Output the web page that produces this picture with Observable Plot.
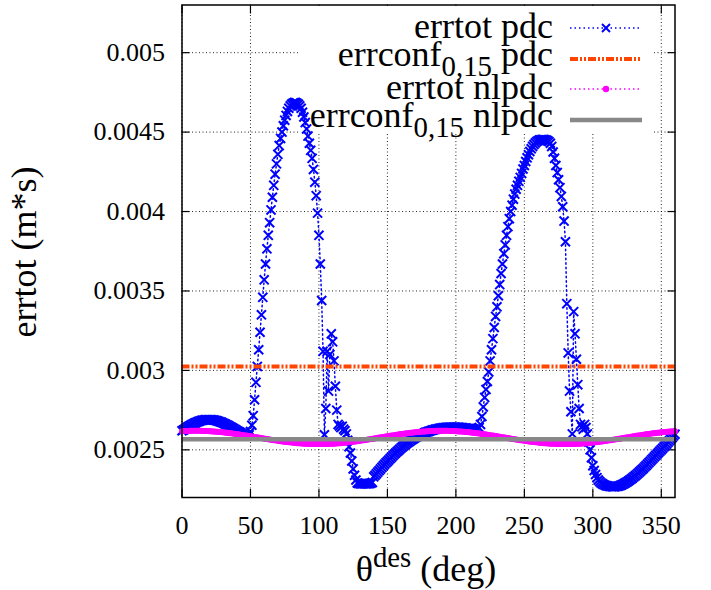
<!DOCTYPE html>
<html><head><meta charset="utf-8">
<script src="https://cdn.jsdelivr.net/npm/d3@7"></script>
<script src="https://cdn.jsdelivr.net/npm/@observablehq/plot@0.6"></script>
<style>
html,body{margin:0;padding:0;background:#fff;}
#chart svg{display:block;}
#chart svg text{font-family:"Liberation Serif","DejaVu Serif",serif;}
</style></head><body><div id="chart"></div>
<script>
// abscissa: desired angle, one sample per degree
const thetaDeg = d3.range(0, 361, 1);

// errtot pdc (units of 1e-6 m*s), theta = 0..360
const errtotPdcMicro = [
2620,2625,2630,2636,2642,2648,2653,2658,2663,2667,
2671,2675,2678,2681,2684,2686,2688,2689,2690,2690,
2690,2690,2689,2688,2686,2684,2682,2679,2676,2673,
2669,2665,2661,2657,2652,2647,2642,2637,2632,2627,
2622,2617,2612,2607,2602,2598,2594,2591,2590,2595,
2615,2655,2715,2815,2925,3025,3130,3240,3350,3460,
3570,3670,3765,3850,3930,4010,4090,4165,4235,4300,
4360,4415,4460,4500,4540,4575,4605,4630,4650,4665,
4675,4682,4686,4686,4682,4675,4665,4650,4625,4595,
4560,4520,4475,4430,4385,4335,4265,4185,4100,3990,
3850,3670,3440,3120,2595,2760,3120,2870,3100,3230,
3180,3060,2900,2750,2660,2650,2640,2648,2630,2620,
2600,2560,2520,2480,2430,2380,2340,2310,2292,2288,
2287,2286,2286,2286,2286,2286,2287,2288,2290,2295,
2330,2340,2350,2360,2370,2380,2390,2400,2409,2418,
2427,2436,2445,2454,2463,2472,2480,2488,2496,2504,
2512,2519,2526,2533,2540,2546,2552,2558,2564,2570,
2575,2580,2585,2590,2594,2598,2602,2606,2610,2613,
2616,2619,2622,2625,2627,2629,2631,2633,2635,2637,
2638,2639,2640,2641,2642,2642,2643,2643,2643,2643,
2643,2642,2642,2641,2640,2639,2638,2637,2636,2635,
2634,2633,2632,2631,2630,2630,2632,2640,2660,2710,
2770,2830,2880,2930,2990,3060,3130,3200,3270,3340,
3400,3470,3540,3610,3670,3735,3790,3850,3905,3955,
4000,4040,4078,4110,4140,4165,4190,4215,4240,4268,
4290,4315,4338,4358,4378,4395,4410,4422,4432,4440,
4446,4450,4452,4453,4453,4452,4450,4446,4440,4430,
4410,4375,4335,4290,4245,4200,4150,4095,4030,3940,
3810,3420,3110,2870,2740,2600,3370,3230,3070,2910,
2760,2660,2645,2630,2660,2640,2600,2550,2500,2450,
2400,2370,2345,2325,2310,2300,2292,2286,2281,2277,
2274,2272,2270,2269,2268,2268,2268,2269,2270,2272,
2275,2279,2283,2288,2293,2298,2304,2310,2316,2323,
2330,2337,2344,2352,2360,2368,2376,2384,2393,2402,
2411,2420,2429,2438,2447,2456,2465,2474,2483,2492,
2501,2510,2519,2528,2537,2548,2558,2568,2578,2588,
2598];

// errtot nlpdc (units of 1e-6 m*s), theta = 0..360
const errtotNlpdcMicro = [
2617,2618,2618,2619,2619,2619,2620,2620,2620,2620,
2620,2620,2620,2620,2620,2619,2619,2619,2618,2618,
2617,2617,2616,2616,2615,2614,2614,2613,2612,2611,
2610,2609,2608,2607,2606,2605,2604,2603,2601,2600,
2599,2598,2596,2595,2594,2592,2591,2590,2588,2587,
2585,2584,2582,2581,2579,2578,2577,2575,2574,2572,
2571,2569,2568,2566,2565,2564,2562,2561,2560,2558,
2557,2556,2555,2553,2552,2551,2550,2549,2548,2547,
2546,2545,2544,2543,2542,2542,2541,2540,2540,2539,
2539,2538,2538,2537,2537,2537,2536,2536,2536,2536,
2536,2536,2536,2536,2536,2537,2537,2537,2538,2538,
2539,2539,2540,2540,2541,2542,2542,2543,2544,2545,
2546,2547,2548,2549,2550,2551,2552,2553,2555,2556,
2557,2558,2560,2561,2562,2564,2565,2566,2568,2569,
2571,2572,2574,2575,2577,2578,2579,2581,2582,2584,
2585,2587,2588,2590,2591,2592,2594,2595,2596,2598,
2599,2600,2601,2603,2604,2605,2606,2607,2608,2609,
2610,2611,2612,2613,2614,2614,2615,2616,2616,2617,
2617,2618,2618,2619,2619,2619,2620,2620,2620,2620,
2620,2620,2620,2620,2620,2619,2619,2619,2618,2618,
2617,2617,2616,2616,2615,2614,2614,2613,2612,2611,
2610,2609,2608,2607,2606,2605,2604,2603,2601,2600,
2599,2598,2596,2595,2594,2592,2591,2590,2588,2587,
2585,2584,2582,2581,2579,2578,2577,2575,2574,2572,
2571,2569,2568,2566,2565,2564,2562,2561,2560,2558,
2557,2556,2555,2553,2552,2551,2550,2549,2548,2547,
2546,2545,2544,2543,2542,2542,2541,2540,2540,2539,
2539,2538,2538,2537,2537,2537,2536,2536,2536,2536,
2536,2536,2536,2536,2536,2537,2537,2537,2538,2538,
2539,2539,2540,2540,2541,2542,2542,2543,2544,2545,
2546,2547,2548,2549,2550,2551,2552,2553,2555,2556,
2557,2558,2560,2561,2562,2564,2565,2566,2568,2569,
2571,2572,2574,2575,2577,2578,2579,2581,2582,2584,
2585,2587,2588,2590,2591,2592,2594,2595,2596,2598,
2599,2600,2601,2603,2604,2605,2606,2607,2608,2609,
2610,2611,2612,2613,2614,2614,2615,2616,2616,2617,
2617];

// constant confidence levels (m*s)
const errconfPdc = 0.003025;
const errconfNlpdc = 0.002567;

const xTicks = [0, 50, 100, 150, 200, 250, 300, 350];
const yTicks = [0.0025, 0.003, 0.0035, 0.004, 0.0045, 0.005];

const legendMain = ["errtot pdc", "errconf", "errtot nlpdc", "errconf"];
const legendSub = [null, "0,15", null, "0,15"];
const legendRest = [null, " pdc", null, " nlpdc"];

const pdcData = thetaDeg.map((t, i) => ({theta: t, err: errtotPdcMicro[i] / 1e6}));
const nlpdcData = thetaDeg.map((t, i) => ({theta: t, err: errtotNlpdcMicro[i] / 1e6}));

const FONT = "Liberation Serif";
const BLUE = "#0000ff", ORANGE = "#ff4500", MAGENTA = "#ff00ff", GRAY = "#888888";

const chart = Plot.plot({
  width: 711,
  height: 590,
  marginLeft: 181.5,
  marginRight: 36.5,
  marginTop: 4.5,
  marginBottom: 93,
  style: {fontFamily: FONT, fontSize: "26px", background: "#fff", color: "#000", overflow: "visible"},
  x: {domain: [0, 360], label: null},
  y: {domain: [0.0022, 0.0053], label: null},
  marks: [
    Plot.gridX(xTicks, {stroke: "#000", strokeOpacity: 0.85, strokeWidth: 1, strokeDasharray: "1,2.5"}),
    Plot.gridY(yTicks, {stroke: "#000", strokeOpacity: 0.85, strokeWidth: 1, strokeDasharray: "1,2.5"}),
    Plot.axisX(xTicks, {anchor: "bottom", tickSize: -8, fill: "none", strokeWidth: 1.2}),
    Plot.axisX(xTicks, {anchor: "top", tickSize: -8, fill: "none", strokeWidth: 1.2}),
    Plot.axisY(yTicks, {anchor: "left", tickSize: -8, fill: "none", strokeWidth: 1.2}),
    Plot.axisY(yTicks, {anchor: "right", tickSize: -8, fill: "none", strokeWidth: 1.2}),
    Plot.axisX(xTicks, {anchor: "bottom", tickSize: 0, tickPadding: 18, label: null, fontSize: 26, tickFormat: d => String(d)}),
    Plot.axisY(yTicks, {anchor: "left", tickSize: 0, tickPadding: 17, label: null, fontSize: 26, tickFormat: d => String(+d.toPrecision(2))}),
    Plot.line(pdcData, {x: "theta", y: "err", stroke: BLUE, strokeWidth: 1.5, strokeDasharray: "1.5,3"}),
    Plot.dot(pdcData, {x: "theta", y: "err", symbol: "times", r: 4.2, stroke: BLUE, strokeWidth: 2}),
    Plot.ruleY([errconfPdc], {stroke: ORANGE, strokeWidth: 4, strokeDasharray: "8,2,2,2,2,2"}),
    Plot.line(nlpdcData, {x: "theta", y: "err", stroke: MAGENTA, strokeWidth: 1.5, strokeDasharray: "1.5,3"}),
    Plot.dot(nlpdcData, {x: "theta", y: "err", r: 3, fill: MAGENTA, stroke: "none"}),
    Plot.ruleY([errconfNlpdc], {stroke: GRAY, strokeWidth: 4.5}),
    Plot.frame({stroke: "#000", strokeWidth: 1.5})
  ]
});

document.getElementById("chart").appendChild(chart);
const svg = d3.select(chart);

// opaque key background (hides grid behind the key, as in the original)
const firstData = chart.querySelector('g[aria-label="line"]');
const bg = document.createElementNS("http://www.w3.org/2000/svg", "rect");
bg.setAttribute("x", 300); bg.setAttribute("y", 6);
bg.setAttribute("width", 352); bg.setAttribute("height", 127);
bg.setAttribute("fill", "#fff");
chart.insertBefore(bg, firstData);

// key
const key = svg.append("g").style("font-family", FONT);
const keyTextX = 553, s0 = 570, s1 = 642, sm = 606;
const rowY = [28, 59, 89, 120];
const textDy = [10, 7, 10, 7];
rowY.forEach((y, i) => {
  const t = key.append("text").attr("x", keyTextX).attr("y", y + textDy[i])
    .attr("text-anchor", "end").style("font-size", "36px").attr("fill", "#000");
  t.append("tspan").text(legendMain[i]);
  if (legendSub[i]) {
    t.append("tspan").attr("dy", 10).style("font-size", "28.8px").text(legendSub[i]);
    t.append("tspan").attr("dy", -10).text(legendRest[i]);
  }
});
// samples
key.append("line").attr("x1", s0).attr("x2", s1).attr("y1", rowY[0]).attr("y2", rowY[0])
  .attr("stroke", BLUE).attr("stroke-width", 1.5).attr("stroke-dasharray", "1.5,3");
key.append("path").attr("d", `M${sm-4},${rowY[0]-4}L${sm+4},${rowY[0]+4}M${sm-4},${rowY[0]+4}L${sm+4},${rowY[0]-4}`)
  .attr("stroke", BLUE).attr("stroke-width", 2).attr("fill", "none");
key.append("line").attr("x1", s0).attr("x2", s1).attr("y1", rowY[1]).attr("y2", rowY[1])
  .attr("stroke", ORANGE).attr("stroke-width", 4).attr("stroke-dasharray", "8,2,2,2,2,2");
key.append("line").attr("x1", s0).attr("x2", s1).attr("y1", rowY[2]).attr("y2", rowY[2])
  .attr("stroke", MAGENTA).attr("stroke-width", 1.5).attr("stroke-dasharray", "1.5,3");
key.append("circle").attr("cx", sm).attr("cy", rowY[2]).attr("r", 3.2).attr("fill", MAGENTA);
key.append("line").attr("x1", s0).attr("x2", s1).attr("y1", rowY[3]).attr("y2", rowY[3])
  .attr("stroke", GRAY).attr("stroke-width", 4.5);

// axis titles
const xl = svg.append("text").attr("x", 426).attr("y", 581).attr("text-anchor", "middle")
  .style("font-family", FONT).style("font-size", "36px").attr("fill", "#000");
xl.append("tspan").text("θ");
xl.append("tspan").attr("dy", -14).style("font-size", "28.8px").text("des");
xl.append("tspan").attr("dy", 14).text(" (deg)");

svg.append("text").attr("transform", "translate(36,252) rotate(-90)").attr("text-anchor", "middle")
  .style("font-family", FONT).style("font-size", "36px").attr("fill", "#000").text("errtot (m*s)");
</script></body></html>
